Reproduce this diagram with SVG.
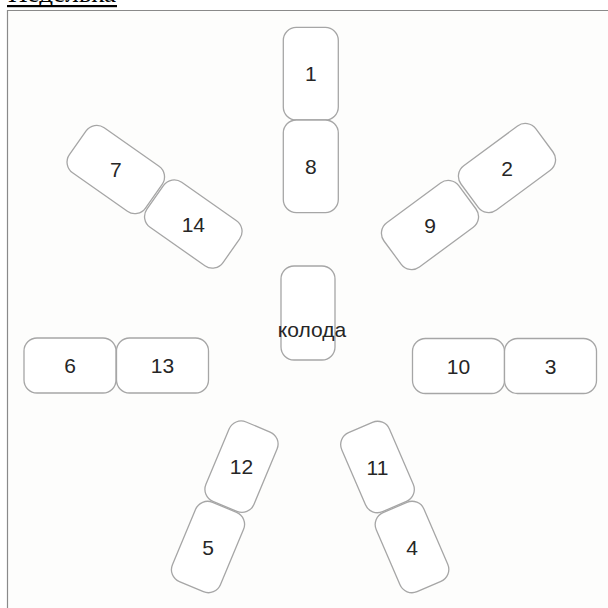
<svg xmlns="http://www.w3.org/2000/svg" width="608" height="608" viewBox="0 0 608 608">
  <style>
    .card { fill: #ffffff; stroke: #a6a6a6; stroke-width: 1.3; }
    .num { font-family: "Liberation Sans", Arial, sans-serif; font-size: 21px; fill: #262626; text-anchor: middle; }
    .deck { font-family: "Liberation Sans", Arial, sans-serif; font-size: 21px; fill: #262626; text-anchor: middle; }
    .title { font-family: "Liberation Serif", "Times New Roman", serif; font-size: 26px; fill: #000; }
  </style>
  <rect x="0" y="0" width="608" height="608" fill="#ffffff"/>
  <g id="frame">
    <rect x="7.5" y="10.5" width="601" height="598" fill="#fdfdfc"/>
    <path d="M7.5 608 V10.5 H608" fill="none" stroke="#8a8a8a" stroke-width="1.2"/>
  </g>
  <g id="title">
    <text class="title" x="8" y="1.5" textLength="108" lengthAdjust="spacingAndGlyphs">Неделька</text>
    <rect x="7" y="5" width="110" height="2.2" fill="#000"/>
  </g>

  <g id="card-1" transform="translate(310.8 73.7)">
    <rect class="card" x="-27.5" y="-46.3" width="55" height="92.6" rx="13"/>
    <text class="num" x="0" y="7.5">1</text>
  </g>
  <g id="card-8" transform="translate(310.8 166.3)">
    <rect class="card" x="-27.5" y="-46.3" width="55" height="92.6" rx="13"/>
    <text class="num" x="0" y="7.5">8</text>
  </g>

  <g id="card-7" transform="translate(115.8 169.5) rotate(35.1)">
    <rect class="card" x="-46.5" y="-27.5" width="93" height="55" rx="13"/>
    <text class="num" x="0" y="7.5" transform="rotate(-35.1)">7</text>
  </g>
  <g id="card-14" transform="translate(193.3 224) rotate(35.1)">
    <rect class="card" x="-46.5" y="-27.5" width="93" height="55" rx="13"/>
    <text class="num" x="0" y="7.5" transform="rotate(-35.1)">14</text>
  </g>

  <g id="card-2" transform="translate(507 168) rotate(-36.5)">
    <rect class="card" x="-46.5" y="-27.5" width="93" height="55" rx="13"/>
    <text class="num" x="0" y="7.5" transform="rotate(36.5)">2</text>
  </g>
  <g id="card-9" transform="translate(430 225) rotate(-36.5)">
    <rect class="card" x="-46.5" y="-27.5" width="93" height="55" rx="13"/>
    <text class="num" x="0" y="7.5" transform="rotate(36.5)">9</text>
  </g>

  <g id="card-deck" transform="translate(308 313)">
    <rect class="card" x="-27" y="-47" width="54" height="94" rx="13"/>
    <text class="deck" x="4" y="23.5">колода</text>
  </g>

  <g id="card-6" transform="translate(70 365.5)">
    <rect class="card" x="-46" y="-27.5" width="92" height="55" rx="13"/>
    <text class="num" x="0" y="7.5">6</text>
  </g>
  <g id="card-13" transform="translate(162.5 365.5)">
    <rect class="card" x="-46" y="-27.5" width="92" height="55" rx="13"/>
    <text class="num" x="0" y="7.5">13</text>
  </g>

  <g id="card-10" transform="translate(458.5 366)">
    <rect class="card" x="-46" y="-27.5" width="92" height="55" rx="13"/>
    <text class="num" x="0" y="7.5">10</text>
  </g>
  <g id="card-3" transform="translate(550.5 366)">
    <rect class="card" x="-46" y="-27.5" width="92" height="55" rx="13"/>
    <text class="num" x="0" y="7.5">3</text>
  </g>

  <g id="card-12" transform="translate(241.5 466.7) rotate(22.7)">
    <rect class="card" x="-26" y="-43" width="52" height="86" rx="13"/>
    <text class="num" x="0" y="7.5" transform="rotate(-22.7)">12</text>
  </g>
  <g id="card-5" transform="translate(208 547) rotate(22.7)">
    <rect class="card" x="-26" y="-43" width="52" height="86" rx="13"/>
    <text class="num" x="0" y="7.5" transform="rotate(-22.7)">5</text>
  </g>

  <g id="card-11" transform="translate(377.5 467) rotate(-23.3)">
    <rect class="card" x="-26" y="-43" width="52" height="86" rx="13"/>
    <text class="num" x="0" y="7.5" transform="rotate(23.3)">11</text>
  </g>
  <g id="card-4" transform="translate(412 547) rotate(-23.3)">
    <rect class="card" x="-26" y="-43" width="52" height="86" rx="13"/>
    <text class="num" x="0" y="7.5" transform="rotate(23.3)">4</text>
  </g>
</svg>
